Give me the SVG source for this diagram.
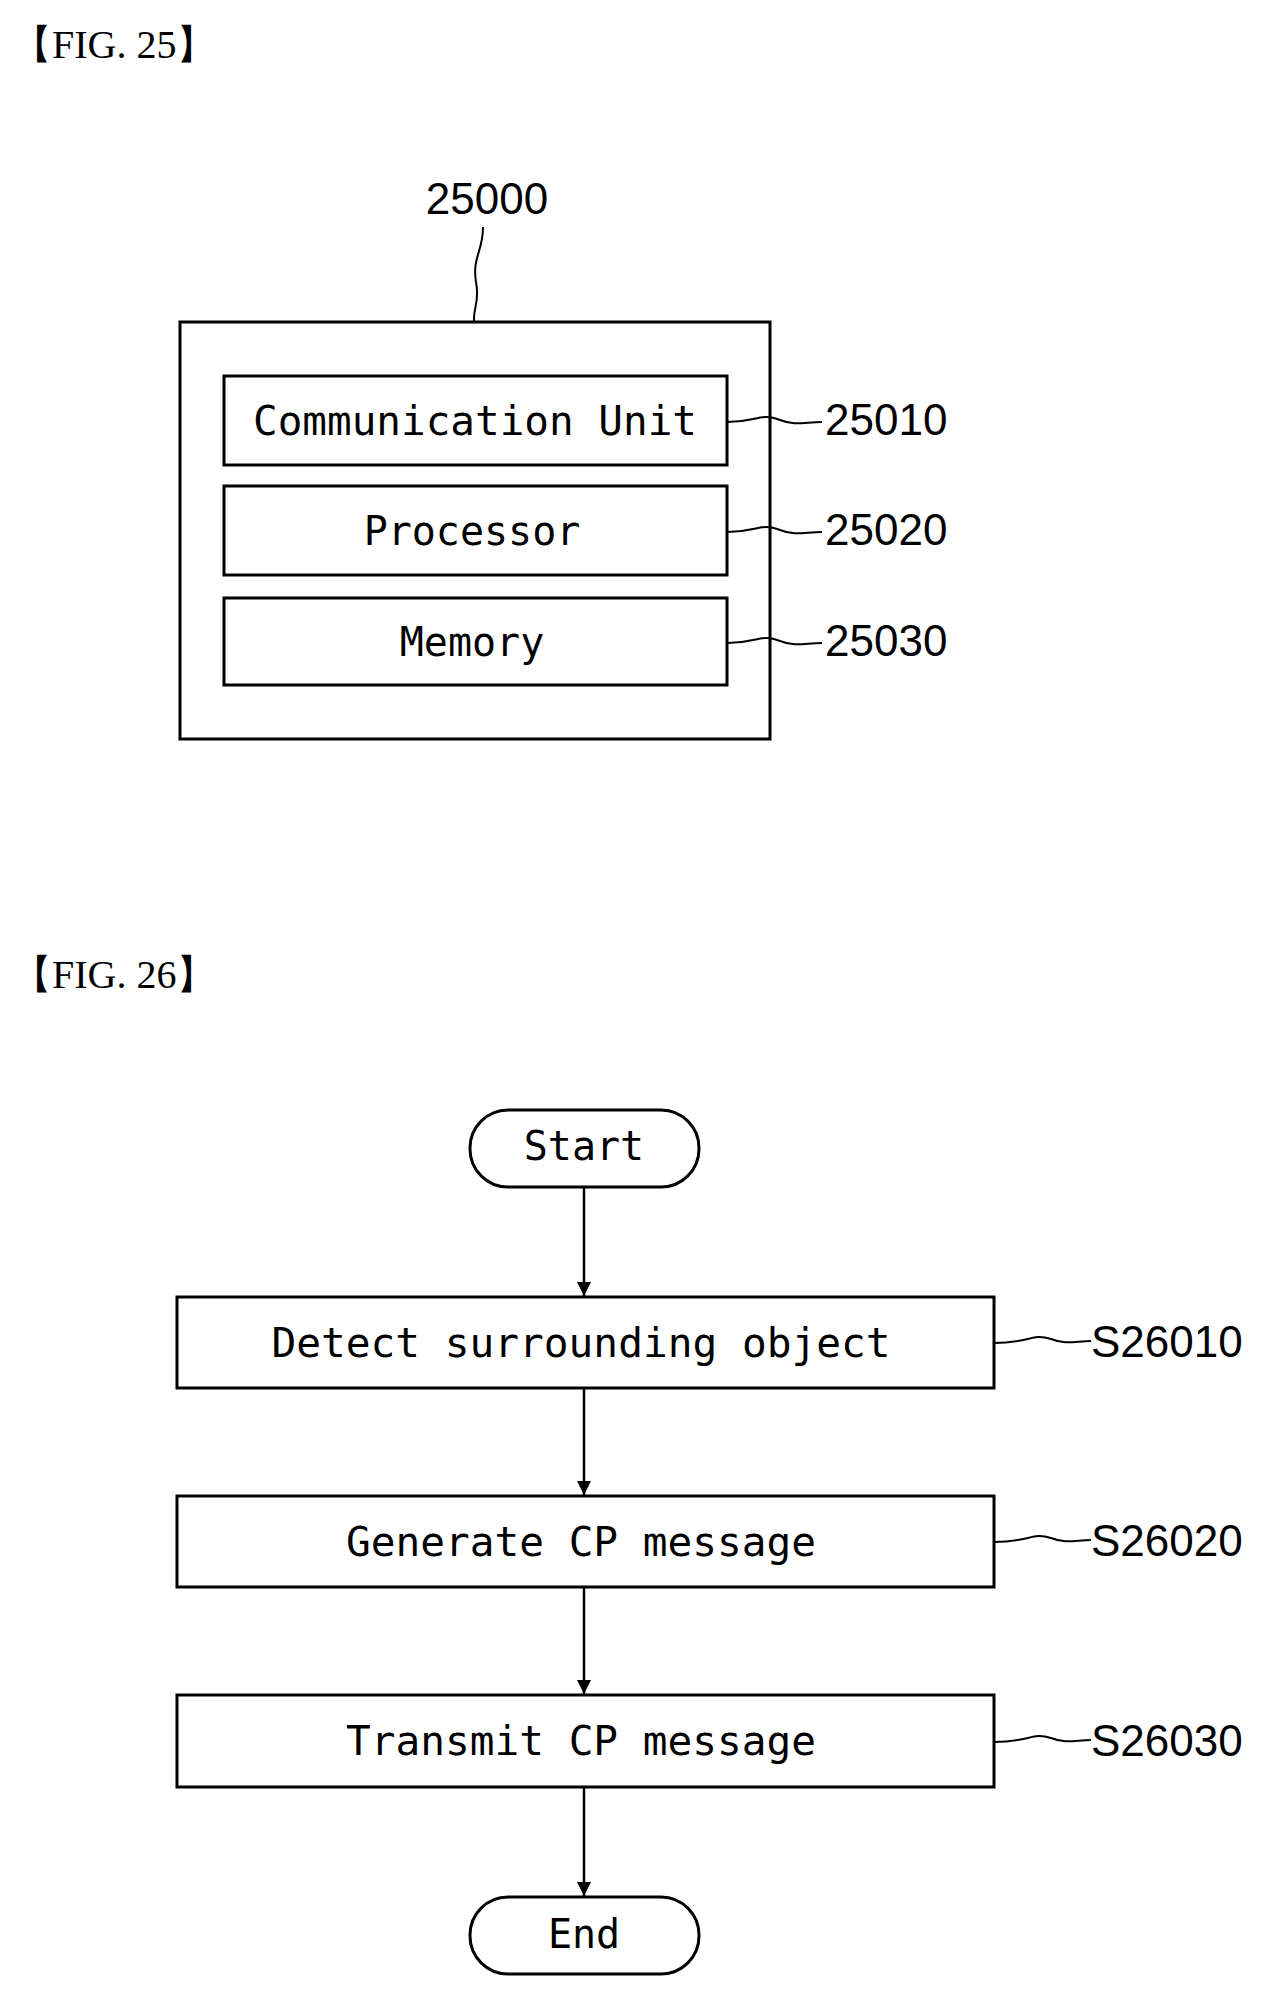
<svg xmlns="http://www.w3.org/2000/svg" width="1265" height="1997" viewBox="0 0 1265 1997">
<style>
.box{fill:#fff;stroke:#000;stroke-width:3}
.t{font-family:"DejaVu Sans Mono","Liberation Mono",monospace;font-size:40px;text-anchor:middle}
.n{font-family:"Liberation Sans",Arial,sans-serif;font-size:44px}
.fig{font-family:"Liberation Serif","Times New Roman",serif;font-size:40px}
.ln{fill:none;stroke:#000;stroke-width:2}
.ar{fill:none;stroke:#000;stroke-width:2.5;marker-end:url(#ah)}
</style>
<defs><marker id="ah" markerWidth="14" markerHeight="28" refX="14" refY="7" orient="auto" markerUnits="userSpaceOnUse"><path d="M0,0 L28,7 L0,14 Z" fill="#000" transform="scale(0.5,1)"/></marker></defs>
<rect width="1265" height="1997" fill="#fff"/>
<text class="fig" x="12" y="58">【FIG. 25】</text>
<text class="fig" x="12" y="988">【FIG. 26】</text>
<g id="n25000"><rect class="box" x="180" y="322" width="590" height="417"/><text class="n" x="487" y="214" text-anchor="middle">25000</text></g>
<g id="n25010"><rect class="box" x="224" y="376" width="503" height="89"/><text class="t" x="475" y="435" textLength="444" lengthAdjust="spacingAndGlyphs">Communication Unit</text><text class="n" x="825" y="435">25010</text></g>
<g id="n25020"><rect class="box" x="224" y="486" width="503" height="89"/><text class="t" x="472" y="545">Processor</text><text class="n" x="825" y="545">25020</text></g>
<g id="n25030"><rect class="box" x="224" y="598" width="503" height="87"/><text class="t" x="472" y="656">Memory</text><text class="n" x="825" y="656">25030</text></g>
<g id="start"><rect class="box" x="470" y="1110" width="229" height="77" rx="38"/><text class="t" x="584" y="1160">Start</text></g>
<g id="s26010"><rect class="box" x="177" y="1297" width="817" height="91"/><text class="t" x="581" y="1357" textLength="619" lengthAdjust="spacingAndGlyphs">Detect surrounding object</text><text class="n" x="1091" y="1357">S26010</text></g>
<g id="s26020"><rect class="box" x="177" y="1496" width="817" height="91"/><text class="t" x="581" y="1556" textLength="470" lengthAdjust="spacingAndGlyphs">Generate CP message</text><text class="n" x="1091" y="1556">S26020</text></g>
<g id="s26030"><rect class="box" x="177" y="1695" width="817" height="92"/><text class="t" x="581" y="1755" textLength="470" lengthAdjust="spacingAndGlyphs">Transmit CP message</text><text class="n" x="1091" y="1756">S26030</text></g>
<g id="end"><rect class="box" x="470" y="1897" width="229" height="77" rx="38"/><text class="t" x="584" y="1948">End</text></g>
<g id="connectors">
<path class="ln" d="M483,227 C483,252 472,257 476,282 C480,302 473,307 474,322"/>
<path class="ln" d="M727,422 C760,422 760,412 780,420 C795,426 805,422 822,422"/>
<path class="ln" d="M727,532 C760,532 760,522 780,530 C795,536 805,532 822,532"/>
<path class="ln" d="M727,643 C760,643 760,633 780,641 C795,647 805,643 822,643"/>
<path class="ln" d="M994,1343 C1031,1343 1031,1333 1051,1339 C1066,1345 1076,1341 1091,1341"/>
<path class="ln" d="M994,1542 C1031,1542 1031,1532 1051,1538 C1066,1544 1076,1540 1091,1540"/>
<path class="ln" d="M994,1742 C1031,1742 1031,1732 1051,1738 C1066,1744 1076,1740 1091,1740"/>
<line class="ar" x1="584" y1="1187" x2="584" y2="1296"/>
<line class="ar" x1="584" y1="1388" x2="584" y2="1495"/>
<line class="ar" x1="584" y1="1587" x2="584" y2="1694"/>
<line class="ar" x1="584" y1="1787" x2="584" y2="1896"/>
</g>
</svg>
